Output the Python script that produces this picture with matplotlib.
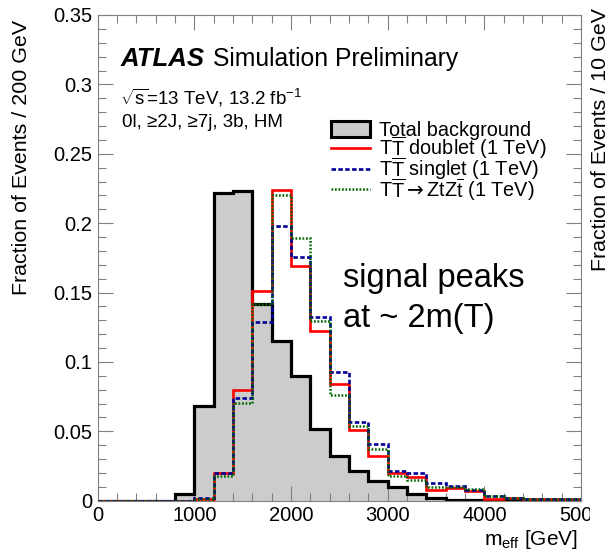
import matplotlib
matplotlib.use('Agg')
import matplotlib.pyplot as plt
import numpy as np
from matplotlib.lines import Line2D
from matplotlib.patches import Patch
from matplotlib.ticker import MultipleLocator, FuncFormatter
from matplotlib.transforms import Bbox

plt.rcParams['font.family'] = ['Liberation Sans', 'DejaVu Sans']
plt.rcParams['mathtext.fontset'] = 'custom'
plt.rcParams['mathtext.rm'] = 'Liberation Sans'
plt.rcParams['mathtext.it'] = 'Liberation Sans:italic'
plt.rcParams['mathtext.bf'] = 'Liberation Sans:bold'
plt.rcParams['mathtext.sf'] = 'Liberation Sans'
plt.rcParams['mathtext.cal'] = 'DejaVu Sans'

# ---- data: m_eff histograms, 200 GeV bins from 0 to 5000 GeV ----
bin_edges = np.arange(0, 5001, 200)
background = [0, 0, 0, 0, 0.005, 0.068, 0.222, 0.223, 0.142, 0.115, 0.090, 0.052, 0.0325,
              0.0214, 0.0142, 0.0101, 0.0048, 0.0017, 0.0008, 0.0005, 0.0003, 0.0002, 0.0001, 0.0001, 0]
doublet = [0, 0, 0, 0, 0, 0.001, 0.020, 0.080, 0.151, 0.224, 0.169, 0.122, 0.084,
           0.051, 0.032, 0.020, 0.017, 0.008, 0.009, 0.0068, 0.0013, 0.002, 0.001, 0.0012, 0.001]
singlet = [0, 0, 0, 0, 0, 0.002, 0.020, 0.074, 0.1285, 0.198, 0.1755, 0.1325, 0.0925,
           0.057, 0.0405, 0.0215, 0.020, 0.0125, 0.0105, 0.008, 0.0037, 0.002, 0.0012, 0.0015, 0.001]
ztzt = [0, 0, 0, 0, 0, 0.001, 0.018, 0.0705, 0.1415, 0.2205, 0.189, 0.1295, 0.0765,
        0.0535, 0.0375, 0.018, 0.015, 0.010, 0.010, 0.0085, 0.0035, 0.002, 0.001, 0.001, 0.001]
legend_labels = ['Total background',
                 r'$\mathrm{T\overline{T}}$ doublet (1 TeV)',
                 r'$\mathrm{T\overline{T}}$ singlet (1 TeV)',
                 r'$\mathrm{T\overline{T}}\mathcal{\rightarrow}\mathrm{ZtZ\overline{t}}$ (1 TeV)']

W, H = 606, 556
fig = plt.figure(figsize=(W / 100, H / 100), dpi=100)
ax = fig.add_axes([97.7 / W, 1 - 500.7 / H, (581 - 97.7) / W, (500.7 - 15) / H])

bkg_fill = '#cccccc'
c_red, c_blue, c_green = '#ff0000', '#000099', '#006600'
ls_blue = (0, (1.7, 0.9))
ls_green = (0, (0.7, 0.7))

ax.stairs(background, bin_edges, fill=True, facecolor=bkg_fill, edgecolor='none', zorder=1)
ax.stairs(background, bin_edges, color='black', lw=2.3, zorder=2)
ax.stairs(doublet, bin_edges, color=c_red, lw=1.9, zorder=3)
ax.stairs(singlet, bin_edges, color=c_blue, lw=1.9, linestyle=ls_blue, zorder=4)
ax.stairs(ztzt, bin_edges, color=c_green, lw=1.8, linestyle=ls_green, zorder=5)

ax.set_xlim(0, 5000)
ax.set_ylim(0, 0.35)
ax.xaxis.set_major_locator(MultipleLocator(1000))
ax.xaxis.set_minor_locator(MultipleLocator(200))
ax.yaxis.set_major_locator(MultipleLocator(0.05))
ax.yaxis.set_minor_locator(MultipleLocator(0.01))
ax.xaxis.set_major_formatter(FuncFormatter(lambda v, p: '%d' % round(v)))
ax.yaxis.set_major_formatter(FuncFormatter(lambda v, p: '0' if abs(v) < 1e-9 else ('%.2f' % v).rstrip('0')))
gray = '#808080'
ax.tick_params(which='both', direction='in', top=True, right=True, color=gray, width=0.8,
               labelsize=14.5)
ax.tick_params(which='major', length=10.5)
ax.tick_params(which='minor', length=5.5)
ax.tick_params(axis='x', pad=4)
ax.tick_params(axis='y', pad=4)
for s in ax.spines.values():
    s.set_color(gray)
    s.set_linewidth(0.8)

# y label (top aligned)
fig.text(31 / W, 1 - 20 / H, 'Fraction of Events / 200 GeV', rotation=90, ha='right', va='top', fontsize=15.4)
# neighbouring panel's label, cut by the figure edge as in the reference
fig.text(591 / W, 1 - 8 / H, 'Fraction of Events / 10 GeV', rotation=90, ha='left', va='top', fontsize=15.4)
# x label
fig.text(578 / W, 1 - 545 / H, r'm$_{\mathrm{eff}}$ [GeV]', ha='right', va='baseline', fontsize=15)

# ATLAS labels
fig.text(121 / W, 1 - 66 / H, 'ATLAS', fontsize=18.5, fontweight='bold', fontstyle='italic', va='baseline')
fig.text(213 / W, 1 - 66 / H, 'Simulation Preliminary', fontsize=17.8, va='baseline')
fig.text(120 / W, 1 - 105 / H, r'$\sqrt{\mathrm{s}}$=13 TeV, 13.2 fb$^{\mathrm{-1}}$', fontsize=13.5, va='baseline')
fig.text(122 / W, 1 - 127 / H, '0l, \u22652J, \u22657j, 3b, HM', fontsize=13.5, va='baseline')

fig.text(343 / W, 1 - 286.7 / H, 'signal peaks', fontsize=23.5, va='baseline')
fig.text(343 / W, 1 - 326.7 / H, 'at ~ 2m(T)', fontsize=23.5, va='baseline')

handles = [Patch(facecolor=bkg_fill, edgecolor='black', lw=2.2),
           Line2D([], [], color=c_red, lw=1.9),
           Line2D([], [], color=c_blue, lw=1.9, linestyle=ls_blue),
           Line2D([], [], color=c_green, lw=1.8, linestyle=ls_green)]
fig.legend(handles, legend_labels, loc='upper left', bbox_to_anchor=(331 / W, 1 - 121 / H),
           frameon=False, fontsize=14.3, handlelength=1.95, handleheight=0.85, handletextpad=0.45,
           labelspacing=-0.3, borderpad=0, borderaxespad=0)

fig.canvas.draw()
clip = Bbox.from_extents(0, 0, 590, H)
for t in ax.xaxis.get_major_ticks():
    if abs(t.get_loc() - 5000) < 1:
        t.label1.set_clip_box(clip)
        t.label1.set_clip_on(True)

fig.savefig('out.png', dpi=100)
